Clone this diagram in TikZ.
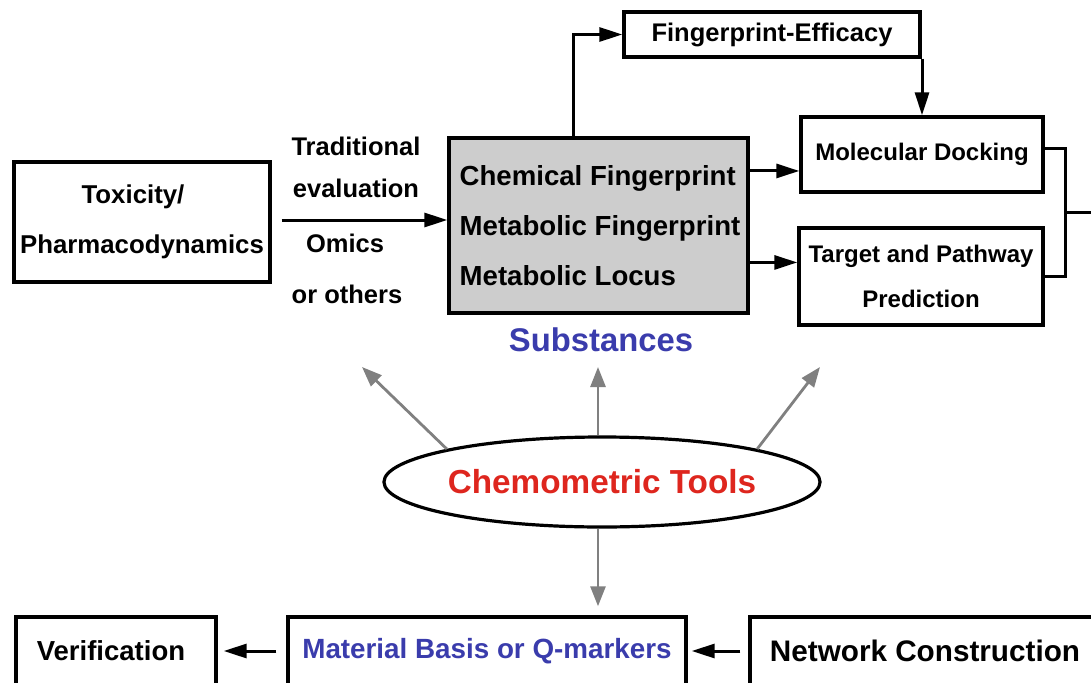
\documentclass[tikz,border=0pt]{standalone}
\usepackage{fontspec}
\setmainfont{Liberation Sans}
\usetikzlibrary{arrows.meta,shapes.geometric,calc}

\begin{document}
\begin{tikzpicture}[x=1pt, y=-1pt,
    box/.style={draw, line width=3.4pt, inner sep=0pt, align=center,
      font=\bfseries\fontsize{24}{45}\selectfont},
    arr/.style={line width=3pt, -{Triangle[length=23pt,width=14pt]}},
    garr/.style={line width=2.8pt, draw=arrgray, -{Triangle[length=20pt,width=15pt]}},
    lbl/.style={inner sep=0pt, align=center}]
    \definecolor{boxgray}{RGB}{205,205,205}
    \definecolor{arrgray}{RGB}{128,128,128}
    \definecolor{subblue}{RGB}{58,60,172}
    \definecolor{toolred}{RGB}{222,38,30}
    \useasboundingbox (0,0) rectangle (1091,682);
    \clip (0,0) rectangle (1091,682);
    % top row
    \node[box, minimum width=256, minimum height=120,
      font=\bfseries\fontsize{25.8}{50}\selectfont] (tox) at (142,222) {\hspace*{-18pt}Toxicity/\\Pharmacodynamics};
    \node[box, fill=boxgray, align=left, minimum width=299, minimum height=175,
      font=\bfseries\fontsize{27.6}{50}\selectfont] (chem) at (598.5,225.5)
      {\hspace*{3pt}Chemical Fingerprint\\\hspace*{3pt}Metabolic Fingerprint\\\hspace*{3pt}Metabolic Locus};
    \node[box, minimum width=296, minimum height=45,
      font=\bfseries\fontsize{25.5}{30}\selectfont] (fe) at (772,34.5) {Fingerprint-Efficacy};
    \node[box, minimum width=242, minimum height=75] (md) at (922,154.5) {\raisebox{-3pt}{Molecular Docking}};
    \node[box, minimum width=244, minimum height=97] (tgt) at (921,276.5) {Target and Pathway\\Prediction};
    \node[lbl, font=\bfseries\fontsize{25.5}{42}\selectfont] (trad) at (356,167) {Traditional\\evaluation};
    \node[lbl, font=\bfseries\fontsize{25.5}{51}\selectfont] (omics) at (347,268.5) {\hspace*{-4pt}Omics\\or others};
    \node[lbl, text=subblue, font=\bfseries\fontsize{32.8}{36}\selectfont] (subs) at (601,340) {Substances};
    % tools
    \node[ellipse, draw, line width=3.2pt, inner sep=0pt, minimum width=425, minimum height=90,
      text=toolred, font=\bfseries\fontsize{33.3}{36}\selectfont] (tools) at (602,482) {Chemometric Tools};
    % bottom row
    \node[box, minimum width=200, minimum height=68,
      font=\bfseries\fontsize{27.5}{30}\selectfont] (ver) at (116,651) {\hspace*{-10pt}Verification};
    \node[box, minimum width=398, minimum height=68, text=subblue,
      font=\bfseries\fontsize{27.8}{30}\selectfont] (mat) at (487,651) {Material Basis or Q-markers};
    \node[box, minimum width=350, minimum height=68,
      font=\bfseries\fontsize{29.7}{30}\selectfont] (net) at (925,651) {Network Construction};
    \coordinate (ta) at ([yshift=2pt]tox.east);
    \coordinate (mda) at ($(md.north west)!0.71!(md.south west)$);
    \coordinate (tga) at ($(tgt.north west)!0.36!(tgt.south west)$);
    \coordinate (jn) at (1065,212);
    \coordinate (out) at (1100,212);
    \coordinate (t1) at (362,367);
    \coordinate (t2) at (598,367);
    \coordinate (t3) at (820,367);
    % connectors
    \draw[arr, shorten <=10pt] (ta) -- (chem.west |- ta);
    \draw[arr] ([xshift=-25pt]chem.north) |- (fe.west);
    \draw[arr] (fe.south -| md.north) -- (md.north);
    \draw[arr] (chem.east |- mda) -- (mda);
    \draw[arr] (chem.east |- tga) -- (tga);
    \draw[line width=3pt] ([yshift=6pt]md.east) -| (jn) |- (tgt.east);
    \draw[line width=3pt] (jn) -- (out);
    \draw[garr] (tools.168) -- (t1);
    \draw[garr] (tools.north -| t2) -- (t2);
    \draw[garr] (tools.12) -- (t3);
    \draw[garr, shorten >=9pt] (tools.south -| t2) -- (t2 |- mat.north);
    \draw[arr, shorten <=8pt, shorten >=4pt] (net.west) -- (mat.east);
    \draw[arr, shorten <=10pt, shorten >=6pt] (mat.west) -- (ver.east);
\end{tikzpicture}
\end{document}
